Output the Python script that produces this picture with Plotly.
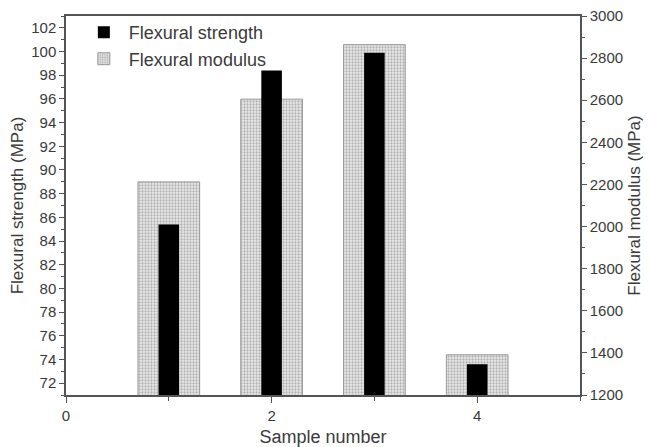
import plotly.graph_objects as go

sample = [1, 2, 3, 4]
strength = [85.4, 98.4, 99.9, 73.6]
modulus = [2212, 2605, 2864, 1391]

font_family = "Liberation Sans, Arial, sans-serif"
txt = "#3a3a3a"
axc = "#555555"

fig = go.Figure()
fig.add_trace(go.Bar(
    x=sample, y=modulus, name="Flexural modulus", yaxis="y", width=0.6,
    marker=dict(color="#d0d0d0", line=dict(color="#999999", width=1),
                pattern=dict(shape=".", size=3, fgcolor="#7a7a7a", bgcolor="#eaeaea", solidity=0.45)),
))
fig.add_trace(go.Bar(
    x=sample, y=strength, name="Flexural strength", yaxis="y2", width=0.2,
    marker=dict(color="#000000", line=dict(color="#000000", width=0)),
))

fig.update_layout(
    width=643, height=439,
    margin=dict(l=58, r=71, t=6, b=52),
    paper_bgcolor="white", plot_bgcolor="white",
    barmode="overlay",
    font=dict(family=font_family, color=txt, size=15),
    showlegend=True,
    legend=dict(x=0.025, y=1.005, xanchor="left", yanchor="top", traceorder="reversed",
                itemwidth=40, font=dict(size=18, color=txt), bgcolor="rgba(0,0,0,0)"),
    xaxis=dict(range=[0, 5], tick0=0, dtick=2, ticks="outside", ticklen=6, tickcolor=axc,
               showline=True, linecolor=axc, linewidth=1.5, mirror=True, showgrid=False,
               zeroline=False, automargin=False,
               minor=dict(dtick=1, ticks="outside", ticklen=4, tickcolor=axc),
               title=dict(text="Sample number", font=dict(size=18), standoff=8),
               tickfont=dict(size=15)),
    yaxis=dict(range=[1200, 3000], tick0=1200, dtick=200, side="right", ticks="outside",
               ticklen=5, tickcolor=axc, showline=True, linecolor=axc, linewidth=1.5,
               showgrid=False, zeroline=False, automargin=False, ticklabeloverflow="allow",
               minor=dict(dtick=100, ticks="outside", ticklen=3, tickcolor=axc),
               title=dict(text="Flexural modulus (MPa)", font=dict(size=17), standoff=6),
               tickfont=dict(size=15)),
    yaxis2=dict(range=[71, 103], tick0=72, dtick=2, side="left", overlaying="y", ticks="outside",
                ticklen=5, tickcolor=axc, showline=True, linecolor=axc, linewidth=1.5,
                showgrid=False, zeroline=False, automargin=False, ticklabeloverflow="allow",
                minor=dict(dtick=1, ticks="outside", ticklen=3, tickcolor=axc),
                title=dict(text="Flexural strength (MPa)", font=dict(size=17), standoff=4),
                tickfont=dict(size=15)),
)

fig.write_html("out.html")
